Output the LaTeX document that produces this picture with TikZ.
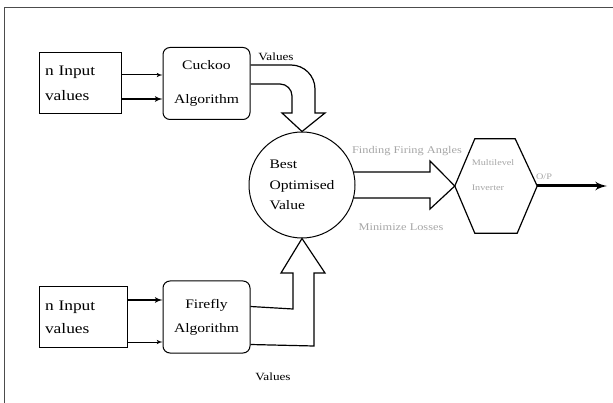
\documentclass[tikz,border=0pt]{standalone}
\usepackage{fontspec}
\setmainfont{Liberation Serif}[FakeStretch=1.2]
\usetikzlibrary{arrows,positioning,calc}
\tikzset{
    %Define standard arrow tip
    >=latex',
    %Define style for the input boxes
    inbox/.style={
           rectangle,
           draw=black, line width=1pt,
           text width=70pt,
           inner xsep=6pt,
           minimum height=61pt,
           align=left,
           font=\fontsize{14.5}{25}\selectfont},
    %Define style for the algorithm boxes
    algo/.style={
           rectangle,
           rounded corners=7pt,
           draw=black, line width=1pt,
           minimum width=87pt,
           minimum height=72pt,
           align=center,
           font=\fontsize{13}{24}\selectfont},
    optimum/.style={
           circle,
           draw=black, line width=1pt,
           minimum size=106pt,
           align=left,
           font=\fontsize{13}{20.5}\selectfont},
    annote/.style={
          font=\fontsize{11}{13}\selectfont
    },
    faint/.style={
          text=gray!70,
          font=\fontsize{10.3}{12}\selectfont
    },
    % Define arrow styles
    link/.style={->, line width=1pt},
    block/.style={draw=black, line width=1.2pt, line join=miter},
    outarrow/.style={->, line width=3pt},
}
\begin{document}
\begin{tikzpicture}[x=1pt,y=-1pt]
\useasboundingbox (0,0) rectangle (613,403);
\draw[line width=0.8pt, black!70] (613,7) -- (4,7) -- (4,403);

\node[inbox]                        (in1) at (80,83.5) {n Input\\values};
\node[algo, right=41pt of in1]      (cuckoo) {Cuckoo\\[10pt]Algorithm};
\node[inbox, text width=76pt, minimum height=60pt,
      font=\fontsize{14.5}{23}\selectfont] (in2) at (83,317) {n Input\\values};
\node[algo, right=35pt of in2]      (firefly) {Firefly\\Algorithm};
\node[optimum]                      (best) at (302,185) {Best\\Optimised\\Value};
\node[minimum width=82pt, minimum height=94pt, inner sep=0pt] (inv) at (496,186) {};
\coordinate (op) at (607,186);

\draw[link] (in1.east |- 0,75) -- (cuckoo.west |- 0,75);
\draw[link, line width=1.6pt] (in1.east |- 0,99) -- (cuckoo.west |- 0,99);
\draw[link, line width=1.6pt] (in2.east |- 0,300) -- (firefly.west |- 0,300);
\draw[link] (in2.east |- 0,342) -- (firefly.west |- 0,342);

% bent block arrows into the optimiser
\draw[block] ($(cuckoo.north east)+(0,18)$) -- (291,65)
     .. controls (304.2,65) and (315,75.8) .. (315,89) -- (315,113) -- (325,113)
     -- (best.north) -- (282,113) -- (292,113) -- (292,96)
     .. controls (292,89.4) and (286.6,84) .. (280,84) -- ($(cuckoo.north east)+(0,37)$);
\draw[block] ($(firefly.north east)+(0,26)$) -- (293,309) -- (293,273) -- (281,273)
     -- (best.south) -- (325,273) -- (314,273) -- (314,346) -- ($(firefly.south east)+(0,-9)$);

% straight block arrow and inverter
\draw[block] (best.14) -- (430,172) -- (430,161) -- (inv.west) -- (430,209) -- (430,198) -- (best.-14);
\draw[block] (inv.west) -- ($(inv.north west)+(20,0)$) -- ($(inv.north east)+(-22,0)$) -- (inv.east)
     -- ($(inv.south east)+(-20,0)$) -- ($(inv.south west)+(20,0)$) -- cycle;
\node[faint, align=left, font=\fontsize{8.5}{25}\selectfont] (invtext) at (493,175.5) {Multilevel\\Inverter};
\draw[outarrow] (inv.east) -- (op);

\node[annote] (valtop) at (276,57) {Values};
\node[annote] (valbot) at (273,377) {Values};
\node[faint] (firing) at (407,151) {Finding Firing Angles};
\node[faint] (losses) at (401,227) {Minimize Losses};
\node[faint, font=\fontsize{8.5}{10}\selectfont] (oplabel) at (544,177) {O/P};
\end{tikzpicture}
\end{document}
